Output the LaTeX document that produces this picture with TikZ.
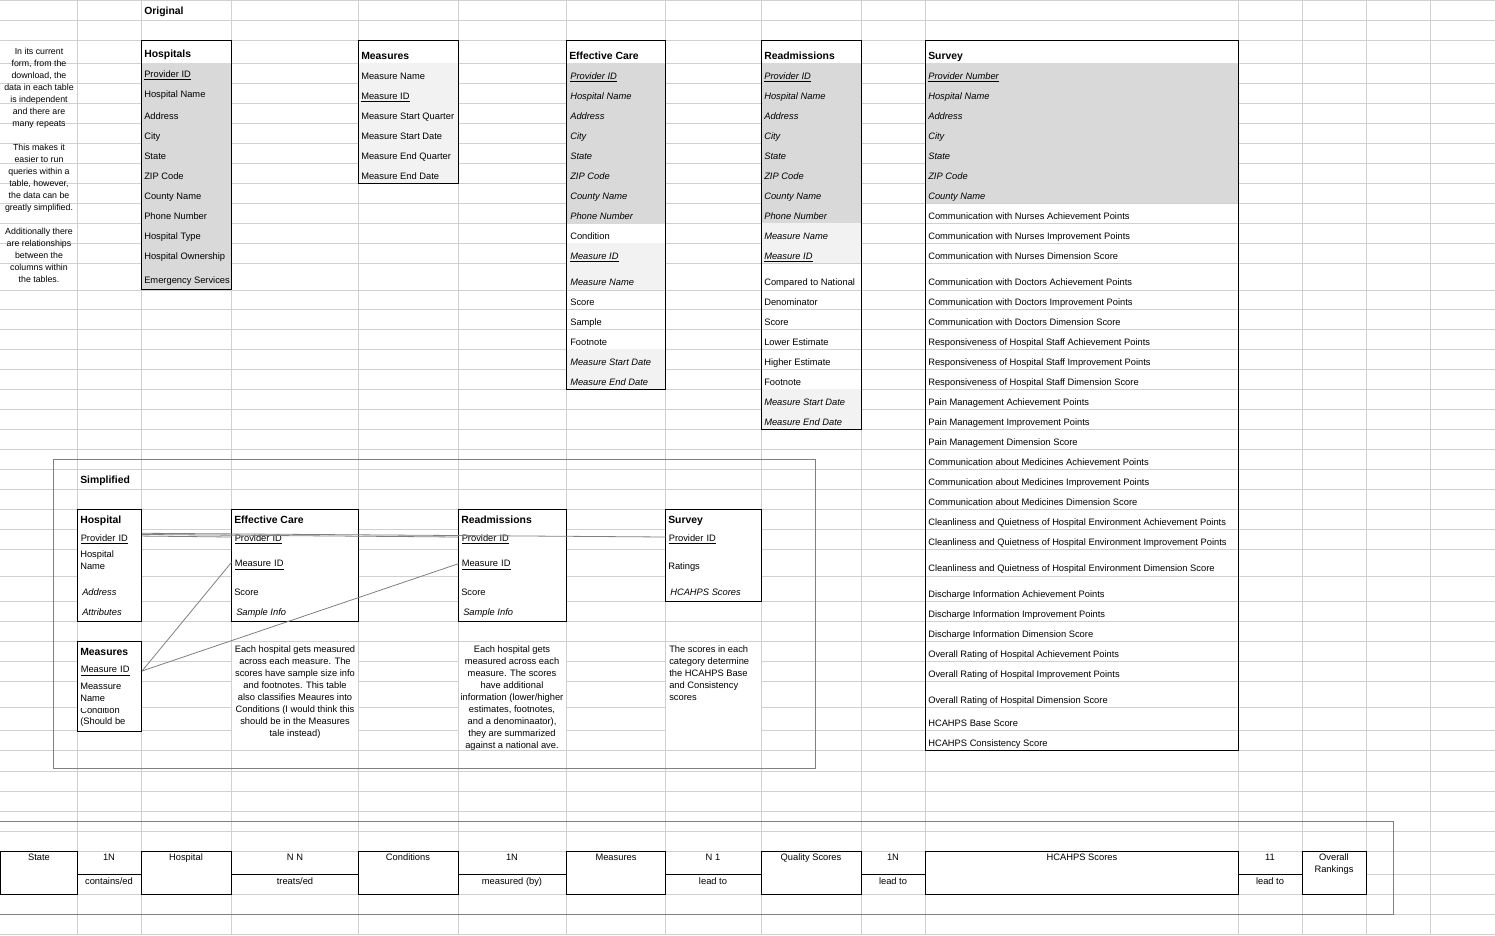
\documentclass[tikz,border=0pt]{standalone}
\usepackage{fontspec}
\setmainfont{Liberation Sans}
\definecolor{gridc}{HTML}{D0D0D0}
\definecolor{shadeD}{HTML}{D9D9D9}
\definecolor{shadeL}{HTML}{F2F2F2}
\definecolor{outc}{HTML}{808080}
\definecolor{linkc}{HTML}{808080}
\newcommand\ulin[1]{\underline{#1}}
\newcommand\fsz{\fontsize{7}{8.4}\selectfont}
\begin{document}
\begin{tikzpicture}[x=0.75pt,y=-0.75pt,
  grid/.style={draw=gridc, line width=0.75pt},
  frame/.style={draw=black, line width=0.75pt},
  outline/.style={draw=outc, line width=0.75pt},
  link/.style={draw=linkc, line width=0.6pt},
  txt/.style={anchor=base west, inner sep=0pt, font=\fsz, yshift=-3pt},
  ctxt/.style={txt, anchor=base},
  hd/.style={txt, font=\fontsize{7.8}{9}\selectfont\bfseries},
  srow/.style={anchor=west, inner xsep=2.25pt, inner ysep=0pt, align=left, font=\fsz, text width=#1},
]
\useasboundingbox (0,0) rectangle (1495,935);
\fill[white] (0,0) rectangle (1495,935);

% ---------- sheet gridlines ----------
\foreach \x in {77,141,231,358,458,566,665,761,861,925,1238,1302,1366,1430}
  \draw[grid] (\x+0.5,0) -- (\x+0.5,935);
\foreach \y in {0,20,40,63,83,103,123,143,163,183,203,223,243,263,290,309,329,349,369,389,409,429,449,469,489,509,529,549,576,601,621,641,661,681,707,730,750,771,791,811,831,851,874,894,914,934}
  \draw[grid] (0,\y+0.5) -- (1495,\y+0.5);

% ---------- cell shading ----------
\fill[shadeD] (141.5,63) rectangle (231.5,289.5);
\fill[shadeL] (358.5,63) rectangle (458.5,183.5);
\fill[shadeD] (566.5,63) rectangle (665.5,223.5);
\fill[shadeL] (566.5,243) rectangle (665.5,290);
\fill[shadeL] (566.5,349) rectangle (665.5,389.5);
\fill[shadeD] (761.5,63) rectangle (861.5,223);
\fill[shadeL] (761.5,223) rectangle (861.5,263);
\fill[shadeL] (761.5,389) rectangle (861.5,429.5);
\fill[shadeD] (925.5,63) rectangle (1238.5,203);

% merged / filled cells in the lower blocks
\fill[white] (77.5,509.5) rectangle (141.5,621.5);
\fill[white] (231.5,509.5) rectangle (358.5,621.5);
\fill[white] (458.5,509.5) rectangle (566.5,621.5);
\fill[white] (665.5,509.5) rectangle (761.5,601.5);
\fill[white] (77.5,641.5) rectangle (141.5,731.5);
\fill[white] (232,642) rectangle (358,750);
\fill[white] (459,642) rectangle (566,750);
\fill[white] (666,642) rectangle (761,750);
\foreach \a/\b in {0/77,141/231,358/458,566/665,761/861,925/1238,1302/1366}
  \fill[white] (\a+0.5,851.5) rectangle (\b+0.5,894.5);

% ---------- original tables ----------
\draw[frame] (141.5,40.5) rectangle (231.5,289.5);
\draw[frame] (358.5,40.5) rectangle (458.5,183.5);
\draw[frame] (566.5,40.5) rectangle (665.5,389.5);
\draw[frame] (761.5,40.5) rectangle (861.5,429.5);
\draw[frame] (925.5,40.5) rectangle (1238.5,750.5);

\node[hd] (orig) at (144,10) {Original};

\foreach \y/\t [count=\i] in {50/In its current, 62/{form, from the}, 74/{download, the},
  86/data in each table, 98/is independent, 110/and there are, 122/many repeats,
  146/This makes it, 158/easier to run, 170/queries within a, 182/{table, however,},
  194/the data can be, 206/greatly simplified., 230/Additionally there,
  242/are relationships, 254/between the, 266/columns within, 278/the tables.}
  \node[ctxt, font=\fontsize{6.6}{8}\selectfont] (intro-\i) at (39,\y) {\t};

\node[hd] (hospT) at (144,53) {Hospitals};
\foreach \y/\t [count=\i] in {73/{\ulin{Provider ID}}, 93/Hospital Name, 115/Address,
  135/City, 155/State, 175/ZIP Code, 195/County Name, 215/Phone Number,
  235/Hospital Type, 255/Hospital Ownership, 279/Emergency Services}
  \node[txt] (hospT-\i) at (144,\y) {\t};

\node[hd] (measT) at (361,55) {Measures};
\foreach \y/\t [count=\i] in {75/Measure Name, 95/{\ulin{Measure ID}},
  115/Measure Start Quarter, 135/Measure Start Date, 155/Measure End Quarter,
  175/Measure End Date}
  \node[txt] (measT-\i) at (361,\y) {\t};

\node[hd] (ecT) at (569,55) {Effective Care};
\foreach \y/\t [count=\i] in {75/{\itshape\ulin{Provider ID}}, 95/{\itshape Hospital Name},
  115/{\itshape Address}, 135/{\itshape City}, 155/{\itshape State},
  175/{\itshape ZIP Code}, 195/{\itshape County Name}, 215/{\itshape Phone Number},
  235/Condition, 255/{\itshape\ulin{Measure ID}}, 281/{\itshape Measure Name},
  301/Score, 321/Sample, 341/Footnote, 361/{\itshape Measure Start Date},
  381/{\itshape Measure End Date}}
  \node[txt] (ecT-\i) at (570,\y) {\t};

\node[hd] (raT) at (764,55) {Readmissions};
\foreach \y/\t [count=\i] in {75/{\itshape\ulin{Provider ID}}, 95/{\itshape Hospital Name},
  115/{\itshape Address}, 135/{\itshape City}, 155/{\itshape State},
  175/{\itshape ZIP Code}, 195/{\itshape County Name}, 215/{\itshape Phone Number},
  235/{\itshape Measure Name}, 255/{\itshape\ulin{Measure ID}},
  281/Compared to National, 301/Denominator, 321/Score, 341/Lower Estimate,
  361/Higher Estimate, 381/Footnote, 401/{\itshape Measure Start Date},
  421/{\itshape Measure End Date}}
  \node[txt] (raT-\i) at (764,\y) {\t};

\node[hd] (svT) at (928,55) {Survey};
\foreach \y/\t [count=\i] in {75/{\itshape\ulin{Provider Number}}, 95/{\itshape Hospital Name},
  115/{\itshape Address}, 135/{\itshape City}, 155/{\itshape State},
  175/{\itshape ZIP Code}, 195/{\itshape County Name},
  215/Communication with Nurses Achievement Points,
  235/Communication with Nurses Improvement Points,
  255/Communication with Nurses Dimension Score,
  281/Communication with Doctors Achievement Points,
  301/Communication with Doctors Improvement Points,
  321/Communication with Doctors Dimension Score,
  341/Responsiveness of Hospital Staff Achievement Points,
  361/Responsiveness of Hospital Staff Improvement Points,
  381/Responsiveness of Hospital Staff Dimension Score,
  401/Pain Management Achievement Points,
  421/Pain Management Improvement Points,
  441/Pain Management Dimension Score,
  461/Communication about Medicines Achievement Points,
  481/Communication about Medicines Improvement Points,
  501/Communication about Medicines Dimension Score,
  521/Cleanliness and Quietness of Hospital Environment Achievement Points,
  541/Cleanliness and Quietness of Hospital Environment Improvement Points,
  567/Cleanliness and Quietness of Hospital Environment Dimension Score,
  593/Discharge Information Achievement Points,
  613/Discharge Information Improvement Points,
  633/Discharge Information Dimension Score,
  653/Overall Rating of Hospital Achievement Points,
  673/Overall Rating of Hospital Improvement Points,
  699/Overall Rating of Hospital Dimension Score,
  722/HCAHPS Base Score, 742/HCAHPS Consistency Score}
  \node[txt] (svT-\i) at (928,\y) {\t};

% ---------- simplified model ----------
\draw[outline] (53.5,459.5) rectangle (815.5,768.5);
\node[hd] (simp) at (80,479) {Simplified};

\draw[frame] (77.5,509.5) rectangle (141.5,621.5);
\node[hd] (sH) at (80,519) {Hospital};
\node[srow=43.5pt] (sH-pid) at (77.5,539) {\ulin{Provider ID}};
\node[txt] (sH-n1) at (80,553) {Hospital};
\node[txt] (sH-n2) at (80,565) {Name};
\node[txt] (sH-ad) at (82,591) {\itshape Address};
\node[txt] (sH-at) at (82,611) {\itshape Attributes};

\draw[frame] (231.5,509.5) rectangle (358.5,621.5);
\node[hd] (sE) at (234,519) {Effective Care};
\node[srow=90.75pt] (sE-pid) at (231.5,539) {\ulin{Provider ID}};
\node[srow=90.75pt] (sE-mid) at (231.5,565) {\ulin{Measure ID}};
\node[txt] (sE-sc) at (234,591) {Score};
\node[txt] (sE-si) at (236,611) {\itshape Sample Info};

\draw[frame] (458.5,509.5) rectangle (566.5,621.5);
\node[hd] (sR) at (461,519) {Readmissions};
\node[srow=76.5pt] (sR-pid) at (458.5,539) {\ulin{Provider ID}};
\node[srow=76.5pt] (sR-mid) at (458.5,565) {\ulin{Measure ID}};
\node[txt] (sR-sc) at (461,591) {Score};
\node[txt] (sR-si) at (463,611) {\itshape Sample Info};

\draw[frame] (665.5,509.5) rectangle (761.5,601.5);
\node[hd] (sS) at (668,519) {Survey};
\node[srow=67.5pt] (sS-pid) at (665.5,539) {\ulin{Provider ID}};
\node[txt] (sS-ra) at (668,565) {Ratings};
\node[txt] (sS-hc) at (670,591) {\itshape HCAHPS Scores};

\draw[frame] (77.5,641.5) rectangle (141.5,731.5);
\node[hd] (sM) at (80,651) {Measures};
\node[srow=43.5pt] (sM-mid) at (77.5,671) {\ulin{Measure ID}};
\node[txt] (sM-n1) at (80,685) {Meassure};
\node[txt] (sM-n2) at (80,697) {Name};
\begin{scope}
  % the wrapped cell text is cut off at the top by the row above
  \clip (78,708.5) rectangle (141,716);
  \node[txt] (sM-cd) at (80,709) {Condition};
\end{scope}
\node[txt] (sM-sb) at (80,720) {(Should be};

\foreach \y/\t [count=\i] in {648/Each hospital gets measured, 660/across each measure. The,
  672/scores have sample size info, 684/and footnotes. This table,
  696/also classifies Meaures into, 708/Conditions (I would think this,
  720/should be in the Measures, 732/tale instead)}
  \node[ctxt] (sE-note-\i) at (295,\y) {\t};

\foreach \y/\t [count=\i] in {648/Each hospital gets, 660/measured across each,
  672/measure. The scores, 684/have additional, 696/{information (lower/higher},
  708/{estimates, footnotes,}, 720/{and a denominaator),}, 732/they are summarized,
  744/against a national ave.}
  \node[ctxt] (sR-note-\i) at (512,\y) {\t};

\foreach \y/\t [count=\i] in {648/The scores in each, 660/category determine,
  672/the HCAHPS Base, 684/and Consistency, 696/scores}
  \node[txt] (sS-note-\i) at (669,\y) {\t};

% key links between the simplified tables
\draw[link] ([yshift=2.2pt]sH-pid.east) -- ([yshift=1.5pt]sE-pid.west);
\draw[link] ([yshift=3.4pt]sH-pid.east) -- ([yshift=1.5pt]sR-pid.west);
\draw[link] ([yshift=4.3pt]sH-pid.east) -- ([yshift=1.5pt]sS-pid.west);
\draw[link] (sM-mid.east) -- ([yshift=2pt]sE-mid.west);
\draw[link] (sM-mid.east) -- ([yshift=1pt]sR-mid.west);

% ---------- relationship chain ----------
\draw[outline] (-2,821.5) rectangle (1393.5,914.5);
\foreach \a/\b in {0/77,141/231,358/458,566/665,761/861,925/1238,1302/1366}
  \draw[frame] (\a+0.5,851.5) rectangle (\b+0.5,894.5);
\foreach \a/\b in {77/141,231/358,458/566,665/761,861/925,1238/1302}
  \draw[frame] (\a+0.5,874.5) -- (\b+0.5,874.5);

\node[ctxt] (eState) at (39,856) {State};
\node[ctxt] (eHosp) at (186,856) {Hospital};
\node[ctxt] (eCond) at (408,856) {Conditions};
\node[ctxt] (eMeas) at (616,856) {Measures};
\node[ctxt] (eQual) at (811,856) {Quality Scores};
\node[ctxt] (eHcah) at (1082,856) {HCAHPS Scores};
\node[ctxt] (eRank1) at (1334,856) {Overall};
\node[ctxt] (eRank2) at (1334,868) {Rankings};

\node[ctxt] (r1) at (109,856) {1N};
\node[ctxt] (r1v) at (109,880) {contains/ed};
\node[ctxt] (r2) at (295,856) {N N};
\node[ctxt] (r2v) at (295,880) {treats/ed};
\node[ctxt] (r3) at (512,856) {1N};
\node[ctxt] (r3v) at (512,880) {measured (by)};
\node[ctxt] (r4) at (713,856) {N 1};
\node[ctxt] (r4v) at (713,880) {lead to};
\node[ctxt] (r5) at (893,856) {1N};
\node[ctxt] (r5v) at (893,880) {lead to};
\node[ctxt] (r6) at (1270,856) {11};
\node[ctxt] (r6v) at (1270,880) {lead to};
\end{tikzpicture}
\end{document}
